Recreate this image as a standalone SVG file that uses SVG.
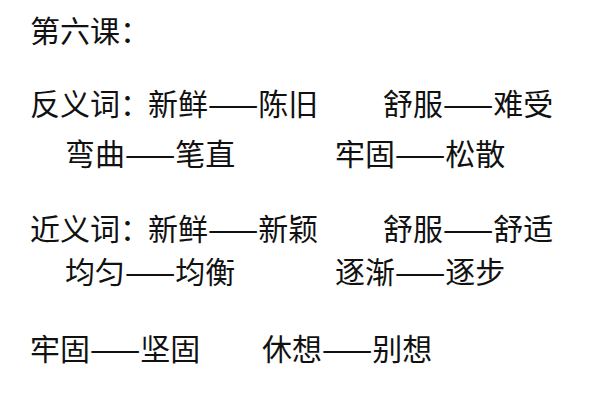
<svg xmlns="http://www.w3.org/2000/svg" width="600" height="400" viewBox="0 0 600 400">
<style>text{font-family:"Noto Sans CJK SC","Noto Sans",sans-serif;font-size:30px;fill:#111}</style>
<rect width="600" height="400" fill="#fff"/>
<g id="lesson">
<text x="30" y="42">第六课：</text>
<text x="30" y="115">反义词：</text>
<text x="148" y="115">新鲜——陈旧</text>
<text x="383" y="115">舒服——难受</text>
<text x="65" y="165">弯曲——笔直</text>
<text x="335" y="165">牢固——松散</text>
<text x="30" y="240">近义词：</text>
<text x="148" y="240">新鲜——新颖</text>
<text x="383" y="240">舒服——舒适</text>
<text x="65" y="283">均匀——均衡</text>
<text x="335" y="283">逐渐——逐步</text>
<text x="30" y="360">牢固——坚固</text>
<text x="262" y="360">休想——别想</text>
</g>
</svg>
